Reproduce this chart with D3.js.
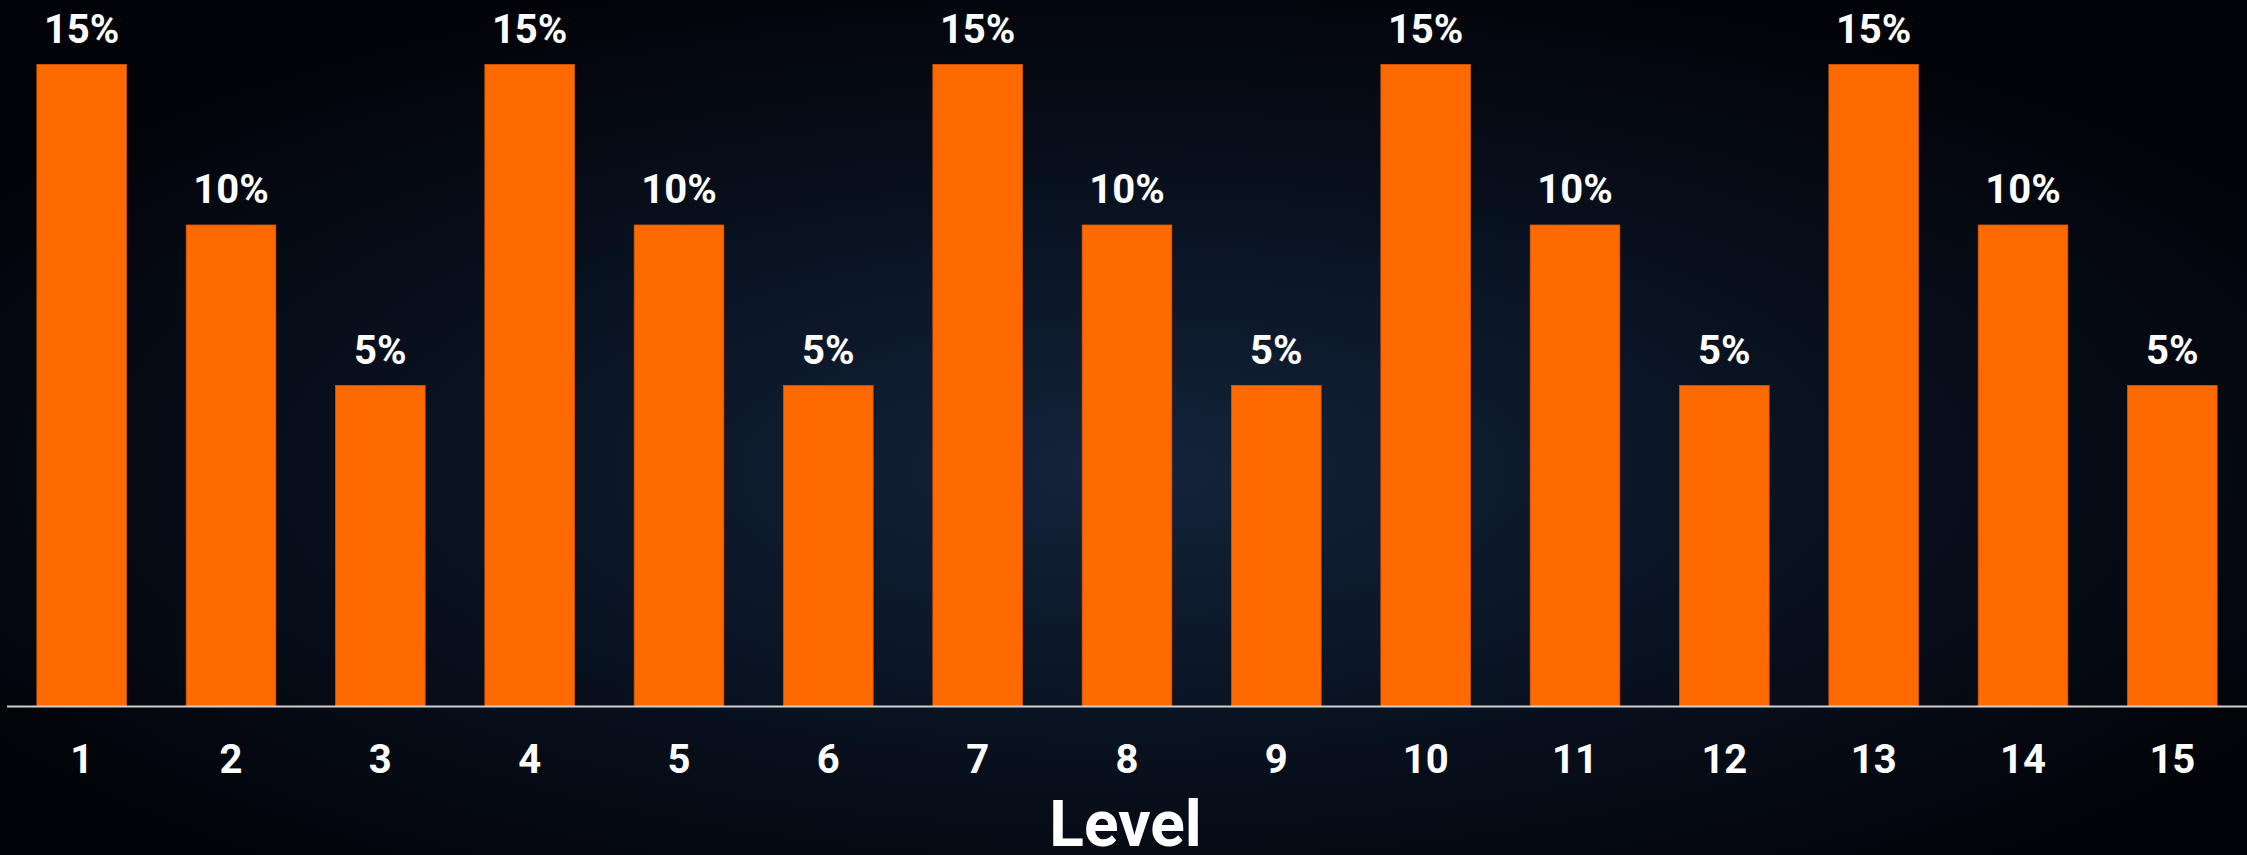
<!DOCTYPE html>
<html>
<head>
<meta charset="utf-8">
<script src="https://cdn.jsdelivr.net/npm/d3@7"></script>
<style>
  html, body { margin: 0; padding: 0; background: #020308; overflow: hidden; }
  svg { display: block; }
</style>
</head>
<body>
<div id="chart"></div>
<script>
const levels = ["1", "2", "3", "4", "5", "6", "7", "8", "9", "10", "11", "12", "13", "14", "15"];
const percents = [15, 10, 5, 15, 10, 5, 15, 10, 5, 15, 10, 5, 15, 10, 5];
const xTitle = "Level";

const width = 2247;
const height = 855;

const svg = d3.select("#chart")
  .append("svg")
  .attr("width", width)
  .attr("height", height);

// dark radial background
const defs = svg.append("defs");
const grad = defs.append("radialGradient")
  .attr("id", "bg")
  .attr("cx", "50%")
  .attr("cy", "55%")
  .attr("r", "60%");
grad.append("stop").attr("offset", "0%").attr("stop-color", "#14243b");
grad.append("stop").attr("offset", "45%").attr("stop-color", "#0a1424");
grad.append("stop").attr("offset", "100%").attr("stop-color", "#020308");

svg.append("rect")
  .attr("width", width)
  .attr("height", height)
  .attr("fill", "url(#bg)");

const x = d3.scaleBand()
  .domain(levels)
  .range([7, width])
  .paddingInner(0.4)
  .paddingOuter(0.2);

// axis baseline sits below zero, so the 5% bars are not short stubs
const y = d3.scaleLinear()
  .domain([-5, 15])
  .range([706.5, 64.5]);

const base = y.range()[0];

const data = levels.map((l, i) => ({ level: l, value: percents[i] }));

svg.append("g")
  .attr("class", "bars")
  .selectAll("rect")
  .data(data)
  .enter().append("rect")
    .attr("x", d => x(d.level))
    .attr("y", d => y(d.value))
    .attr("width", x.bandwidth())
    .attr("height", d => base - y(d.value))
    .attr("fill", "#ff6a00")
    .attr("stroke", "#d9570a")
    .attr("stroke-width", 0.8);

svg.append("g")
  .attr("class", "value-labels")
  .selectAll("text")
  .data(data)
  .enter().append("text")
    .attr("x", d => x(d.level) + x.bandwidth() / 2)
    .attr("y", d => y(d.value) - 22)
    .attr("text-anchor", "middle")
    .attr("fill", "#ffffff")
    .attr("font-family", "Roboto, sans-serif")
    .attr("font-weight", 700)
    .attr("font-size", 40)
    .text(d => d.value + "%");

// x axis
const xAxis = svg.append("g")
  .attr("transform", `translate(0,${base})`)
  .call(d3.axisBottom(x).tickSize(0).tickPadding(38));

xAxis.select(".domain")
  .attr("d", `M${x.range()[0]},0H${x.range()[1]}`)
  .attr("stroke", "#cfcfcf")
  .attr("stroke-width", 2);

xAxis.selectAll("text")
  .attr("fill", "#ffffff")
  .attr("font-family", "Roboto, sans-serif")
  .attr("font-weight", 700)
  .attr("font-size", 40);

svg.append("text")
  .attr("x", width / 2 + 2)
  .attr("y", 846)
  .attr("text-anchor", "middle")
  .attr("fill", "#ffffff")
  .attr("font-family", "Roboto, sans-serif")
  .attr("font-weight", 700)
  .attr("font-size", 64)
  .text(xTitle);
</script>
</body>
</html>
